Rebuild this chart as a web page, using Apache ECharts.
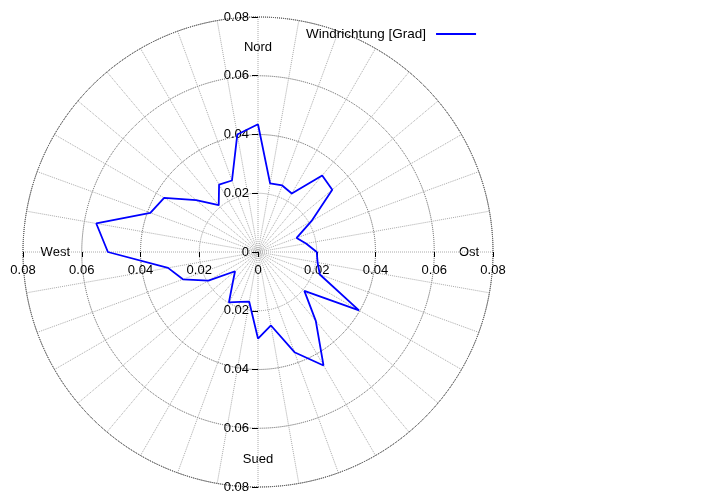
<!DOCTYPE html>
<html>
<head>
<meta charset="utf-8">
<script src="https://cdn.jsdelivr.net/npm/echarts@6/dist/echarts.min.js"></script>
<style>
html,body{margin:0;padding:0;background:#fff;}
#chart{width:720px;height:504px;}
</style>
</head>
<body>
<div id="chart"></div>
<script>
// Wind direction (degrees, clockwise from north) and relative frequency
const directions = [0,10,20,30,40,50,60,70,80,90,100,110,120,130,140,150,160,170,
                    180,190,200,210,220,230,240,250,260,270,280,290,300,310,320,330,340,350];
const frequency = [0.0435,0.0237,0.0241,0.0230,0.0340,0.0330,0.0210,0.0140,0.0166,0.0200,
                   0.0206,0.0224,0.0397,0.0206,0.0306,0.0446,0.0363,0.0254,
                   0.0295,0.0172,0.0181,0.0198,0.0133,0.0102,0.0195,0.0272,0.0311,0.0511,
                   0.0559,0.0390,0.0369,0.0275,0.0208,0.0265,0.0259,0.0406];
const compassNames = {0:'Nord',90:'Ost',180:'Sued',270:'West'};
const seriesName = 'Windrichtung [Grad]';
const axisTicks = [-0.08,-0.06,-0.04,-0.02,0,0.02,0.04,0.06,0.08];

const polarData = directions.map((d,i)=>[frequency[i], d]);
polarData.push([frequency[0], 360]);

const FONT = '"Liberation Sans", Arial, sans-serif';
const tickFmt = v => { const a = Math.abs(v); return a < 1e-9 ? '0' : a.toFixed(2); };
const richBase = {fontSize:13, color:'#000', fontFamily:FONT};

const chart = echarts.init(document.getElementById('chart'), null, {renderer:'canvas'});
chart.setOption({
  animation:false,
  backgroundColor:'#ffffff',
  textStyle:{fontFamily:FONT},
  legend:{
    left:301, top:22, align:'right', itemWidth:40, itemHeight:2, icon:'rect',
    textStyle:{fontSize:13.5, color:'#000', fontFamily:FONT, padding:[0,5,0,0]},
    data:[seriesName]
  },
  polar:{center:[258,252], radius:235},
  angleAxis:{
    type:'value', min:0, max:360, interval:10, startAngle:90, clockwise:true,
    axisLine:{show:true, lineStyle:{color:'#555', type:'dotted', width:1}},
    axisTick:{show:false},
    splitLine:{show:true, lineStyle:{color:'#aaa', type:'dotted', width:1}},
    axisLabel:{
      show:true, margin:-47, fontSize:13, color:'#000', fontFamily:FONT,
      formatter: v => { const n = compassNames[Math.round(v)];
        if (!n || v >= 360) return '';
        return '{' + n + '|' + n + '}'; },
      rich:{
        Nord:Object.assign({padding:[0,0,10,0]}, richBase),
        Ost:Object.assign({padding:[0,0,0,13]}, richBase),
        Sued:Object.assign({padding:[13,0,0,0]}, richBase),
        West:Object.assign({}, richBase)
      }
    }
  },
  radiusAxis:{
    type:'value', min:0, max:0.08, interval:0.02,
    axisLine:{show:false}, axisTick:{show:false}, axisLabel:{show:false},
    splitLine:{show:true, lineStyle:{color:['#999','#999','#555','#555','#555'], type:'dotted', width:1}}
  },
  grid:{left:23, top:17, width:470, height:470, show:false},
  xAxis:{
    type:'value', position:'bottom', offset:-235,
    min:axisTicks[0], max:axisTicks[axisTicks.length-1], interval:0.02,
    axisLine:{show:true, onZero:false, lineStyle:{opacity:0}},
    axisTick:{show:true, length:5, lineStyle:{color:'#000'}},
    splitLine:{show:false},
    axisLabel:{fontSize:13, color:'#000', margin:12, fontFamily:FONT, formatter:tickFmt, showMinLabel:true, showMaxLabel:true}
  },
  yAxis:{
    type:'value', position:'left', offset:-235,
    min:axisTicks[0], max:axisTicks[axisTicks.length-1], interval:0.02,
    axisLine:{show:true, onZero:false, lineStyle:{opacity:0}},
    axisTick:{show:true, length:6, lineStyle:{color:'#000'}},
    splitLine:{show:false},
    axisLabel:{fontSize:13, color:'#000', margin:9, fontFamily:FONT, formatter:tickFmt, showMinLabel:true, showMaxLabel:true}
  },
  series:[{
    name:seriesName, type:'line', coordinateSystem:'polar',
    data:polarData, symbol:'none', z:5,
    lineStyle:{color:'#0000ff', width:1.8}, itemStyle:{color:'#0000ff'}
  }]
});
</script>
</body>
</html>
